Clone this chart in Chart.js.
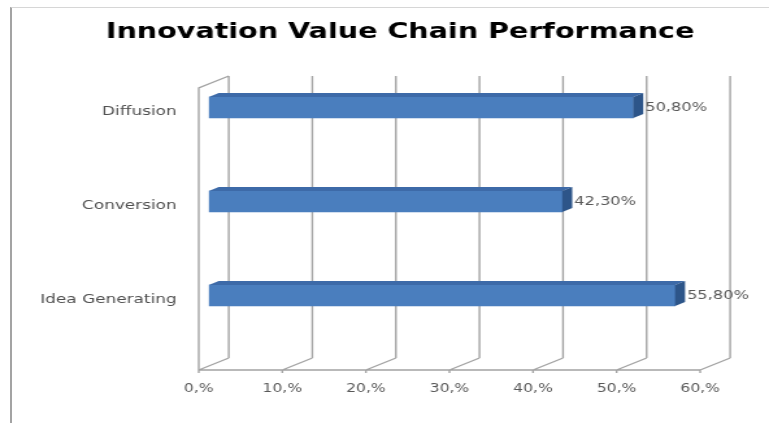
<!DOCTYPE html>
<html><head><meta charset="utf-8">
<script src="https://cdn.jsdelivr.net/npm/chart.js@4"></script>
<style>
html,body{margin:0;padding:0;background:#fff;overflow:hidden;}
#wrap{position:relative;width:769px;height:423px;}
#frame{position:absolute;left:10px;top:7px;right:0;bottom:0;border-left:2px solid #a3a3a3;border-top:1px solid #d6d6d6;pointer-events:none;}
</style></head><body>
<div id="wrap"><canvas id="c" width="592" height="423" style="display:block;width:769px;height:423px"></canvas><div id="frame"></div></div>
<script>
// ---- data ----
const chartTitle = 'Innovation Value Chain Performance';
const categories = ['Diffusion', 'Conversion', 'Idea Generating'];
const values = [50.8, 42.3, 55.8];
const xTicks = [0, 10, 20, 30, 40, 50, 60];
const xTickLabels = ['0,%', '10,%', '20,%', '30,%', '40,%', '50,%', '60,%'];
const valueLabels = ['50,80%', '42,30%', '55,80%'];

// ---- 3D look ----
const WALL = {x: 23.1, y: -12};
const BAR = {x: 7.7, y: -4};
const FONT = '"DejaVu Sans", sans-serif';

const threeD = {
  id: 'threeD',
  beforeDatasetsDraw(chart) {
    const ctx = chart.ctx, a = chart.chartArea, xs = chart.scales.x;
    ctx.save();
    ctx.strokeStyle = '#a3a3a3';
    ctx.lineWidth = 1.4;
    ctx.beginPath();
    ctx.moveTo(a.left, a.bottom); ctx.lineTo(a.left, a.top); ctx.lineTo(a.left + WALL.x, a.top + WALL.y);
    ctx.moveTo(a.left, a.bottom); ctx.lineTo(a.right, a.bottom);
    xTicks.forEach(v => {
      const px = xs.getPixelForValue(v);
      ctx.moveTo(px + WALL.x, a.top + WALL.y); ctx.lineTo(px + WALL.x, a.bottom + WALL.y);
      ctx.moveTo(px, a.bottom); ctx.lineTo(px + WALL.x, a.bottom + WALL.y);
      ctx.moveTo(px, a.bottom); ctx.lineTo(px, a.bottom + 3);
    });
    ctx.stroke();
    ctx.restore();
    ctx.save();
    ctx.translate(BAR.x, BAR.y);
  },
  afterDatasetsDraw(chart) {
    const ctx = chart.ctx;
    ctx.restore();
    const meta = chart.getDatasetMeta(0);
    ctx.save();
    meta.data.forEach((el, i) => {
      const p = el.getProps(['x', 'y', 'base', 'height'], true);
      const l = p.base + BAR.x, r = p.x + BAR.x;
      const t = p.y - p.height / 2 + BAR.y, b = p.y + p.height / 2 + BAR.y;
      ctx.fillStyle = '#3d6aa8';
      ctx.beginPath();
      ctx.moveTo(l, t); ctx.lineTo(r, t); ctx.lineTo(r + BAR.x, t + BAR.y); ctx.lineTo(l + BAR.x, t + BAR.y); ctx.closePath();
      ctx.fill();
      ctx.fillStyle = '#2d5589';
      ctx.beginPath();
      ctx.moveTo(r, t); ctx.lineTo(r + BAR.x, t + BAR.y); ctx.lineTo(r + BAR.x, b + BAR.y); ctx.lineTo(r, b); ctx.closePath();
      ctx.fill();
      ctx.fillStyle = '#595959';
      ctx.font = '12.5px ' + FONT;
      ctx.textAlign = 'left';
      ctx.textBaseline = 'middle';
      ctx.fillText(valueLabels[i], r + BAR.x + 1.5, p.y + BAR.y);
    });
    ctx.restore();
  }
};

new Chart(document.getElementById('c'), {
  type: 'bar',
  data: {
    datasets: [{
      data: values.map((v, i) => ({x: v, y: categories.length - 1 - i})),
      backgroundColor: '#4a7ebe',
      borderWidth: 0,
      barThickness: 21
    }]
  },
  options: {
    indexAxis: 'y',
    responsive: false,
    animation: false,
    events: [],
    layout: {padding: {left: 24, right: 0, top: 0, bottom: 0}},
    plugins: {
      legend: {display: false},
      tooltip: {enabled: false},
      title: {
        display: true,
        text: chartTitle,
        color: '#000',
        font: {family: FONT, size: 22, weight: 'bold'},
        padding: {top: 19, bottom: 42.6}
      }
    },
    scales: {
      x: {
        type: 'linear', position: 'bottom', min: 0, max: 60,
        grid: {display: false, drawTicks: false},
        border: {display: false},
        ticks: {
          stepSize: 10, padding: 12, color: '#595959',
          font: {family: FONT, size: 12},
          callback: v => xTickLabels[xTicks.indexOf(v)]
        },
        afterFit: s => { s.height = 53; }
      },
      y: {
        type: 'linear', position: 'left', min: -0.75, max: 2.25, offset: false, grace: 0,
        grid: {display: false, drawTicks: false, offset: false},
        border: {display: false},
        afterBuildTicks: s => { s.ticks = categories.map((c, i) => ({value: i})); },
        ticks: {
          padding: 17, color: '#4f4f4f',
          font: {family: FONT, size: 13},
          callback: v => categories[categories.length - 1 - v]
        },
        afterFit: s => { s.width = 129; }
      },
      yR: {
        type: 'linear', position: 'right', display: true,
        grid: {display: false, drawTicks: false},
        border: {display: false},
        ticks: {display: false},
        afterFit: s => { s.width = 53; }
      }
    }
  },
  plugins: [threeD]
});
</script>
</body></html>
